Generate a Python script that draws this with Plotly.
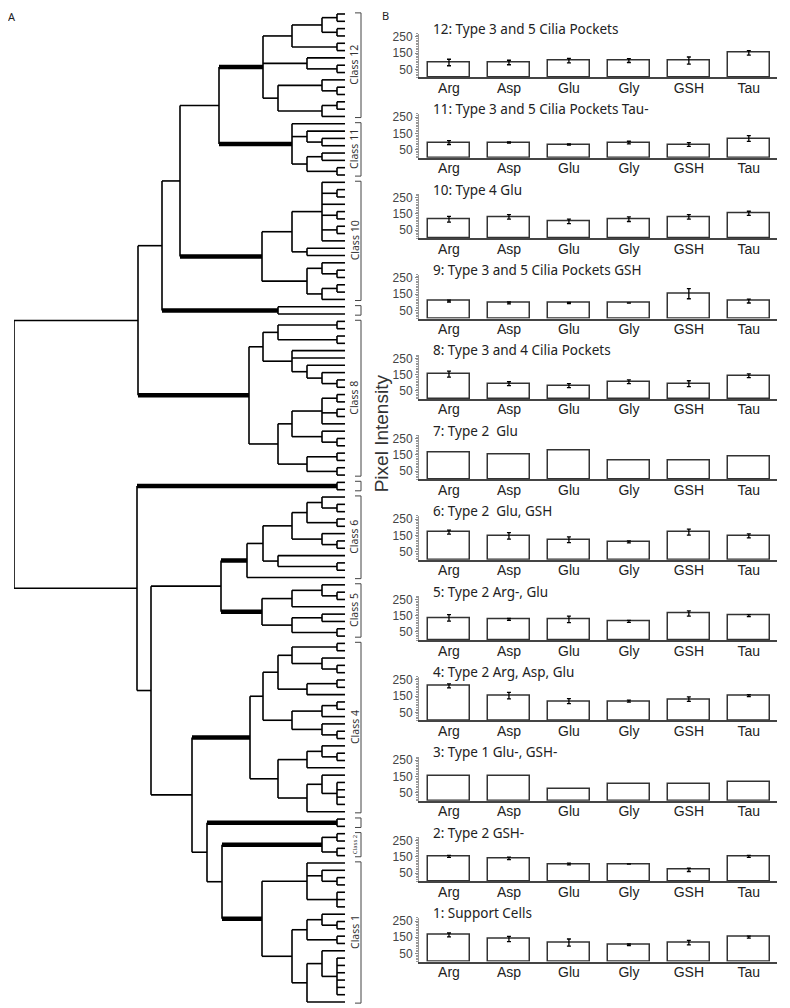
import plotly.graph_objects as go

W, H = 790, 1008          # browser window
PAGE_OFF = 8              # default page margin around the plot div
FW, FH = W - PAGE_OFF, H - PAGE_OFF


def px(x):
    return (x - PAGE_OFF) / FW


def py(y):
    return 1 - (y - PAGE_OFF) / FH


# ---------------- Panel B data (bar charts) ----------------
CATEGORIES = ["Arg", "Asp", "Glu", "Gly", "GSH", "Tau"]
Y_TICKS = [50, 150, 250]

TITLE_12 = "12: Type 3 and 5 Cilia Pockets"
TITLE_11 = "11: Type 3 and 5 Cilia Pockets Tau-"
TITLE_10 = "10: Type 4 Glu"
TITLE_9 = "9: Type 3 and 5 Cilia Pockets GSH"
TITLE_8 = "8: Type 3 and 4 Cilia Pockets"
TITLE_7 = "7: Type 2  Glu"
TITLE_6 = "6: Type 2  Glu, GSH"
TITLE_5 = "5: Type 2 Arg-, Glu"
TITLE_4 = "4: Type 2 Arg, Asp, Glu"
TITLE_3 = "3: Type 1 Glu-, GSH-"
TITLE_2 = "2: Type 2 GSH-"
TITLE_1 = "1: Support Cells"

MEAN_12 = [92, 92, 104, 104, 104, 151]
ERR_12 = [20, 14, 14, 12, 22, 14]
MEAN_11 = [94, 94, 82, 94, 82, 119]
ERR_11 = [12, 4, 4, 8, 12, 18]
MEAN_10 = [117, 131, 104, 117, 131, 153]
ERR_10 = [18, 14, 14, 14, 14, 13]
MEAN_9 = [108, 96, 96, 96, 153, 108]
ERR_9 = [6, 6, 4, 0, 31, 12]
MEAN_8 = [153, 94, 82, 106, 94, 143]
ERR_8 = [18, 12, 12, 12, 18, 12]
MEAN_7 = [164, 151, 176, 117, 117, 139]
ERR_7 = None
MEAN_6 = [170, 147, 123, 110, 170, 147]
ERR_6 = [12, 20, 18, 6, 18, 12]
MEAN_5 = [137, 127, 127, 115, 164, 151]
ERR_5 = [20, 6, 20, 6, 16, 6]
MEAN_4 = [213, 153, 119, 119, 131, 153]
ERR_4 = [12, 20, 15, 6, 14, 6]
MEAN_3 = [151, 151, 70, 104, 104, 117]
ERR_3 = None
MEAN_2 = [153, 141, 106, 106, 70, 153]
ERR_2 = [6, 8, 5, 0, 10, 6]
MEAN_1 = [164, 139, 117, 104, 117, 151]
ERR_1 = [12, 16, 22, 5, 14, 6]

PANELS = [
    (TITLE_12, MEAN_12, ERR_12), (TITLE_11, MEAN_11, ERR_11),
    (TITLE_10, MEAN_10, ERR_10), (TITLE_9, MEAN_9, ERR_9),
    (TITLE_8, MEAN_8, ERR_8), (TITLE_7, MEAN_7, ERR_7),
    (TITLE_6, MEAN_6, ERR_6), (TITLE_5, MEAN_5, ERR_5),
    (TITLE_4, MEAN_4, ERR_4), (TITLE_3, MEAN_3, ERR_3),
    (TITLE_2, MEAN_2, ERR_2), (TITLE_1, MEAN_1, ERR_1),
]

# ---------------- Panel A data (dendrogram) ----------------
# node = [linkage height, child, child, ...]; leaf = 0; "n" = class n subtree
CLASS_12 = [82, [53, [23, [8, 0, 0], [8, 0, 0]], [8, 0, 0]], [38, 0, [8, 0, 0]],
            [67, [23, 0, [8, 0, 0]], [23, [8, 0, 0], 0]]]
CLASS_11 = [53, 0, [38, 0, [23, 0, 0]], [38, [23, 0, 0], [8, 0, 0]]]
CLASS_10 = [83, [53, [23, 0, [8, 0, 0], 0, [8, 0, 0], [8, 0, 0], 0], [38, 0, 0]],
            [38, [23, 0, [8, 0, 0]], [23, [8, 0, 0], 0]]]
CLASS_9 = [67, 0, 0]
CLASS_8 = [96, [82, [67, [8, 0, 0], [8, 0, 0]], [53, 0, 0, [38, 0, [23, 0, [8, 0, 0]]]]],
           [67, [53, [23, [8, 0, 0], [8, 0, 0], 0], [23, 0, [8, 0, 0]]], [38, [8, 0, 0], [8, 0, 0]]]]
CLASS_7 = [8, 0, 0]
CLASS_6 = [98, [82, [53, [38, [23, 0, [8, 0, 0]], [8, 0, 0]], [23, 0, [8, 0, 0]]], [67, 0, [8, 0, 0]]], 0]
CLASS_5 = [83, [53, [23, 0, [8, 0, 0]], 0], [53, [23, 0, 0], [8, 0, 0]]]
CLASS_4 = [95, [82, [67, [53, [8, 0, 0], [23, 0, [8, 0, 0]]], [38, [8, 0, 0], 0]],
                [53, [23, [8, 0, 0], 0], [23, 0, [8, 0, 0]]]],
           [67, [38, [23, 0, [8, 0, 0]], 0], [38, [23, 0, [8, 0, 0, 0, 0]], 0]]]
CLASS_3 = [8, 0, 0]
CLASS_2 = [23, [8, 0, 0], [8, 0, 0]]
CLASS_1 = [83, [38, 0, [23, 0, [8, 0, 0]], [8, 0, 0, 0]],
           [53, [38, [23, 0, [8, 0, 0]], [8, 0, 0]], [38, [23, 0, [8, 0, 0, 0, 0, 0, 0]], 0]]]

CLASS_TREES = {"12": CLASS_12, "11": CLASS_11, "10": CLASS_10, "9": CLASS_9,
               "8": CLASS_8, "7": CLASS_7, "6": CLASS_6, "5": CLASS_5,
               "4": CLASS_4, "3": CLASS_3, "2": CLASS_2, "1": CLASS_1}
TOP_TREE = [331, [207, [183, [165, [126, "12", "11"], "10"], "9"], "8"],
            [208, "7", [194, [124, "6", "5"], [153, "4", [138, "3", [123, "2", "1"]]]]]]
LABELLED_CLASSES = ["12", "11", "10", "8", "6", "5", "4", "2", "1"]

# ---------------- build dendrogram geometry ----------------
thin_x, thin_y, thick_x, thick_y = [], [], [], []
counter = [0]
spans = {}


def seg(xs, ys, a, b):
    xs.extend([a[0], b[0], None])
    ys.extend([a[1], b[1], None])


def place(node):
    if isinstance(node, str):
        start = counter[0]
        y, d, _ = place(CLASS_TREES[node])
        spans[node] = (start, counter[0] - 1)
        return y, d, True
    if node == 0:
        i = counter[0]
        counter[0] += 1
        return float(i), 0.0, False
    h = node[0]
    kids = [place(k) for k in node[1:]]
    ys = [k[0] for k in kids]
    seg(thin_x, thin_y, (h, ys[0]), (h, ys[-1]))
    for ky, kd, is_cls in kids:
        if is_cls:
            seg(thick_x, thick_y, (h, ky), (kd, ky))
        else:
            seg(thin_x, thin_y, (h, ky), (kd, ky))
    return (ys[0] + ys[-1]) / 2, h, False


place(TOP_TREE)
N = counter[0]

br_x, br_y = [], []
for c, (a, b) in spans.items():
    y0, y1 = a - 0.15, b + 0.15
    br_x.extend([-10, -16, -16, -10, None])
    br_y.extend([y0, y0, y1, y1, None])

fig = go.Figure()
fig.add_trace(go.Scatter(x=thin_x, y=thin_y, mode="lines", line=dict(color="black", width=1.6),
                         hoverinfo="skip", showlegend=False, xaxis="x", yaxis="y"))
fig.add_trace(go.Scatter(x=thick_x, y=thick_y, mode="lines", line=dict(color="black", width=4.5),
                         hoverinfo="skip", showlegend=False, xaxis="x", yaxis="y"))
fig.add_trace(go.Scatter(x=br_x, y=br_y, mode="lines", line=dict(color="#444", width=1),
                         hoverinfo="skip", showlegend=False, xaxis="x", yaxis="y"))

# dendrogram axes: x in px-like linkage units, y in leaf index
leaf_top, leaf_bot = 10.0, 1002.0
step = (leaf_bot - leaf_top) / (N - 1)
layout = dict(
    xaxis=dict(domain=[px(14), px(370)], range=[331, -25], visible=False, fixedrange=True),
    yaxis=dict(domain=[0, 1], range=[(H - leaf_top) / step, (PAGE_OFF - leaf_top) / step],
               visible=False, fixedrange=True),
)

annotations = []
for c in LABELLED_CLASSES:
    a, b = spans[c]
    annotations.append(dict(x=-9.5, y=(a + b) / 2, xref="x", yref="y", text="Class " + c,
                            textangle=-90, showarrow=False, xanchor="center", yanchor="middle",
                            font=dict(family="Noto Sans", size=6 if c == "2" else 10.5, color="#333")))

# ---------------- bar panels ----------------
for p, (title, mean, err) in enumerate(PANELS):
    k = p + 2
    base = 73.7 + 80.7 * p
    top = base - 44
    fig.add_trace(go.Bar(
        x=CATEGORIES, y=mean, xaxis=f"x{k}", yaxis=f"y{k}", width=0.69,
        marker=dict(color="white", line=dict(color="#333", width=1.5)),
        error_y=dict(type="data", array=err if err else [0] * 6, visible=err is not None,
                     color="black", thickness=1.3, width=2),
        hoverinfo="skip", showlegend=False))
    layout[f"xaxis{k}"] = dict(domain=[px(419), px(777)], anchor=f"y{k}", range=[-0.5, 5.47],
                               type="category", showline=True, linecolor="#444", linewidth=1.5,
                               ticks="", showgrid=False, zeroline=False, fixedrange=True,
                               ticklabelstandoff=-3,
                               tickfont=dict(family="Liberation Sans", size=14, color="#222"))
    layout[f"yaxis{k}"] = dict(domain=[py(base), py(top)], anchor=f"x{k}", range=[0, 270],
                               tickvals=Y_TICKS, ticks="outside", ticklen=3, tickcolor="#888",
                               showline=True, linecolor="#999", linewidth=1,
                               minor=dict(dtick=10, ticklen=2, ticks="outside", tickcolor="#999"),
                               showgrid=False, zeroline=False, fixedrange=True,
                               tickfont=dict(family="Liberation Sans", size=12, color="#444"))
    annotations.append(dict(x=px(431), y=py(base - 48.7), xref="paper", yref="paper",
                            text=title, showarrow=False, xanchor="left", yanchor="middle",
                            font=dict(family="Noto Sans", size=13.5, color="#222")))

annotations.append(dict(x=px(381), y=py(431), xref="paper", yref="paper", text="Pixel Intensity",
                        textangle=-90, showarrow=False, xanchor="center", yanchor="middle",
                        font=dict(family="Liberation Sans", size=19, color="#333")))
annotations.append(dict(x=px(12), y=py(13), xref="paper", yref="paper", text="A", showarrow=False,
                        xanchor="center", yanchor="middle",
                        font=dict(family="Noto Sans", size=11, color="#222")))
annotations.append(dict(x=px(385), y=py(12), xref="paper", yref="paper", text="B", showarrow=False,
                        xanchor="center", yanchor="middle",
                        font=dict(family="Noto Sans", size=11, color="#222")))

fig.update_layout(width=FW, height=FH, autosize=False, margin=dict(l=0, r=0, t=0, b=0),
                  paper_bgcolor="white", plot_bgcolor="rgba(0,0,0,0)", bargap=0,
                  annotations=annotations, **layout)
fig.write_html("out.html")
